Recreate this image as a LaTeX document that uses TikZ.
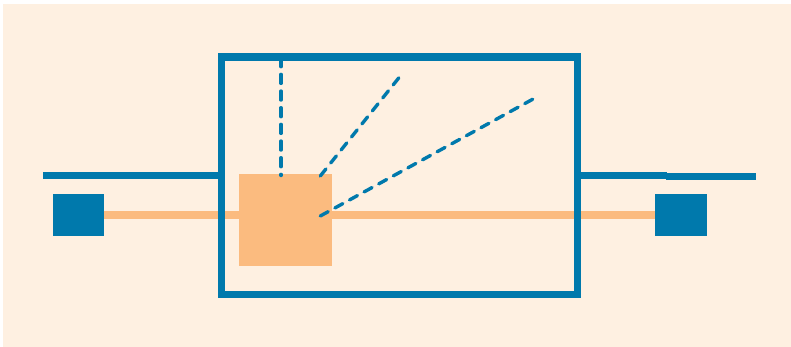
\documentclass[tikz,border=0pt]{standalone}
\definecolor{creambg}{HTML}{FEF0E1}
\definecolor{wireblue}{HTML}{0079AC}
\definecolor{softorange}{HTML}{FBBB7F}
\tikzset{
  block/.style={inner sep=0pt,outer sep=0pt,minimum width=#1},
  bluefill/.style={fill=wireblue,draw=none},
  orangefill/.style={fill=softorange,draw=none},
  framebox/.style={draw=wireblue,line width=7.4pt,fill=none,inner sep=0pt,outer sep=0pt,minimum width=355.9pt,minimum height=237.5pt,miter limit=10},
  bluewire/.style={draw=wireblue,line width=7.5pt},
  orangewire/.style={draw=softorange,line width=8.2pt},
  ray/.style={draw=wireblue,line width=3.4pt,dash pattern=on 9pt off 7.67pt,line cap=round}
}
\begin{document}
\begin{tikzpicture}[x=1pt,y=-1pt]
\useasboundingbox (0,0) rectangle (791,347);
\fill[white] (0,0) rectangle (791,347);
\fill[creambg] (3,4) rectangle (791,346.7);
% geometry
\node[block=51pt,minimum height=42pt,bluefill] (srcL) at (78,215) {};
\node[block=52pt,minimum height=42pt,bluefill] (srcR) at (681,215) {};
\path[orangewire] (srcL.east) -- (srcR.west);
\node[block=92.4pt,minimum height=92pt,orangefill] (core) at (285.5,220) {};
\coordinate (wireLa) at (43,175.5);
\coordinate (wireLb) at (221,175.5);
\coordinate (wireRa) at (578,175.5);
\coordinate (wireRb) at (667,175.5);
\coordinate (wireRc) at (666,176.6);
\coordinate (wireRd) at (755.5,176.6);
\path[bluewire] (wireLa) -- (wireLb);
\path[bluewire] (wireRa) -- (wireRb);
\path[bluewire] (wireRc) -- (wireRd);
\node[framebox] (frame) at (399.5,175.75) {};
\coordinate (rayAa) at (281,175.5);
\coordinate (rayAb) at (281,57.7);
\coordinate (rayBa) at (320.3,176);
\coordinate (rayBb) at (399.5,77);
\coordinate (rayCa) at (320.3,216);
\coordinate (rayCb) at (533.5,98.8);
\path[ray] (rayAb) -- (rayAa);
\path[ray] (rayBa) -- (rayBb);
\path[ray] (rayCa) -- (rayCb);
\end{tikzpicture}
\end{document}
